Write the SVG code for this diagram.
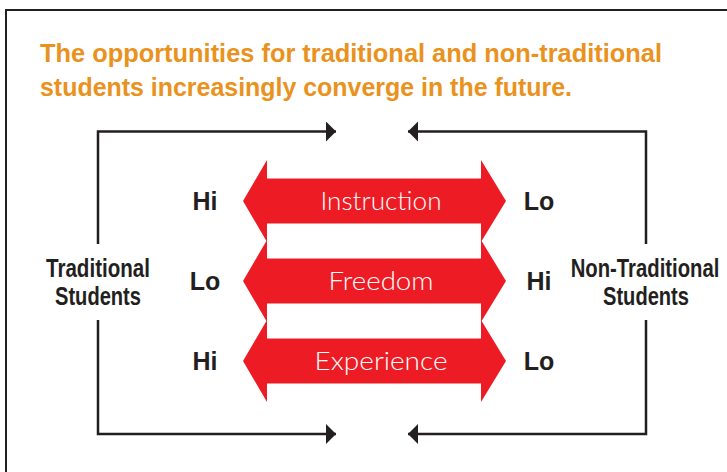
<svg xmlns="http://www.w3.org/2000/svg" width="727" height="472" viewBox="0 0 727 472">
<style>
.title{font-family:"Liberation Sans",Arial,sans-serif;font-weight:bold;font-size:26px;fill:#EA9220}
.lbl{font-family:"Liberation Sans",Arial,sans-serif;font-weight:bold;font-size:26px;fill:#231F20}
.hl{font-family:"Liberation Sans",Arial,sans-serif;font-weight:bold;font-size:25px;fill:#231F20;text-anchor:middle}
.ar{fill:#ED1C24}
.at{font-family:"Lato","Open Sans","Liberation Sans",sans-serif;font-weight:300;font-size:26px;fill:#FFFFFF;text-anchor:middle}
.conn{fill:none;stroke:#231F20;stroke-width:2.5}
.frame{fill:none;stroke:#231F20;stroke-width:2}
</style>
<defs>
<marker id="ah" markerUnits="userSpaceOnUse" markerWidth="12" markerHeight="22" refX="10" refY="10" orient="auto" viewBox="0 0 12 22">
<path d="M0,0 L10,10 L0,20 Z" fill="#231F20"/>
</marker>
</defs>
<rect width="727" height="472" fill="#FFFFFF"/>
<path class="frame" d="M6,472 V10 H727"/>
<g id="title">
<text class="title" x="40" y="62" textLength="622" lengthAdjust="spacingAndGlyphs">The opportunities for traditional and non-traditional</text>
<text class="title" x="40" y="96" textLength="532" lengthAdjust="spacingAndGlyphs">students increasingly converge in the future.</text>
</g>
<g id="connectors">
<path class="conn" d="M98,244 V131.5 H336" marker-end="url(#ah)"/>
<path class="conn" d="M646,244 V131.5 H408" marker-end="url(#ah)"/>
<path class="conn" d="M98,320 V434 H336" marker-end="url(#ah)"/>
<path class="conn" d="M646,320 V434 H408" marker-end="url(#ah)"/>
</g>
<g id="traditional">
<text class="lbl" x="98" y="277" text-anchor="middle" textLength="104" lengthAdjust="spacingAndGlyphs">Traditional</text>
<text class="lbl" x="98" y="305" text-anchor="middle" textLength="86" lengthAdjust="spacingAndGlyphs">Students</text>
</g>
<g id="nontraditional">
<text class="lbl" transform="translate(645,277) scale(0.78,1)" text-anchor="middle" font-size="23.5">Non-Traditional</text>
<text class="lbl" x="646" y="305" text-anchor="middle" textLength="86" lengthAdjust="spacingAndGlyphs">Students</text>
</g>
<g id="instruction">
<polygon class="ar" points="243,201 267,160 267,178.5 481,178.5 481,160 506,201 481,242 481,223.5 267,223.5 267,242"/>
<text class="at" x="381" y="210" textLength="121" lengthAdjust="spacingAndGlyphs">Instruction</text>
<text class="hl" x="205" y="210">Hi</text>
<text class="hl" x="539" y="210">Lo</text>
</g>
<g id="freedom">
<polygon class="ar" points="243,281 267,240 267,258.5 481,258.5 481,240 506,281 481,322 481,303.5 267,303.5 267,322"/>
<text class="at" x="381" y="290" textLength="105" lengthAdjust="spacingAndGlyphs">Freedom</text>
<text class="hl" x="205" y="290">Lo</text>
<text class="hl" x="539" y="290">Hi</text>
</g>
<g id="experience">
<polygon class="ar" points="243,361 267,320 267,338.5 481,338.5 481,320 506,361 481,402 481,383.5 267,383.5 267,402"/>
<text class="at" x="381" y="370" textLength="133" lengthAdjust="spacingAndGlyphs">Experience</text>
<text class="hl" x="205" y="370">Hi</text>
<text class="hl" x="539" y="370">Lo</text>
</g>
</svg>
